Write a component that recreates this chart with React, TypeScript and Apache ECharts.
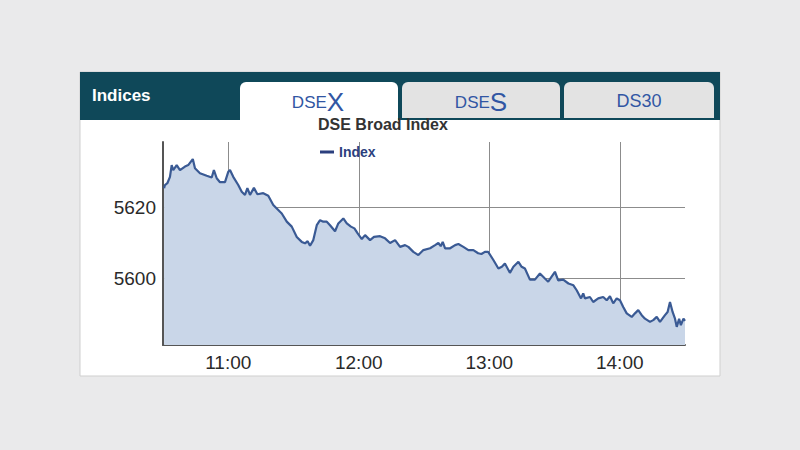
import React, { useEffect, useRef } from "react";
import * as echarts from "echarts";

// minutes since midnight
const times = [
  630.5, 630.9, 632.0, 633.2, 634.0, 634.7, 636.3, 637.8, 640.1, 641.6, 643.7, 644.7, 647.0, 650.1,
  652.4, 653.4, 654.7, 656.2, 658.5, 660.0, 660.8, 662.3, 664.6, 666.2, 667.7, 668.8, 670.0, 671.8,
  673.4, 676.1, 678.4, 680.7, 682.3, 684.6, 686.9, 689.2, 691.5, 693.8, 695.3, 696.5, 697.6, 699.1,
  700.7, 702.2, 703.7, 705.3, 706.8, 709.1, 710.6, 712.9, 714.5, 716.4, 718.0, 719.5, 721.4, 722.9,
  725.2, 727.0, 729.8, 732.1, 734.4, 736.7, 739.0, 741.3, 742.8, 745.1, 747.4, 749.7, 752.8, 755.1,
  756.6, 757.7, 758.6, 759.7, 762.0, 764.3, 765.8, 768.1, 770.4, 772.7, 774.9, 776.4, 778.0, 779.5,
  781.9, 784.2, 785.8, 787.2, 789.5, 791.1, 793.4, 794.9, 796.4, 798.7, 801.0, 803.3, 805.6, 807.1,
  810.2, 811.7, 814.0, 816.4, 818.7, 820.2, 822.2, 823.2, 824.0, 826.3, 827.8, 830.1, 832.4, 834.0,
  835.5, 837.0, 838.6, 840.1, 841.6, 843.2, 845.5, 847.0, 848.5, 850.1, 851.6, 853.9, 855.4, 857.0,
  858.5, 860.8, 862.0, 863.1, 864.3, 865.4, 866.2, 867.3, 868.1, 869.3, 870.0,
];

const indexValues = [
  5625.3, 5626.2, 5626.7, 5628.5, 5631.8, 5630.4, 5631.8, 5630.4, 5631.4, 5631.8, 5633.5, 5630.9, 5629.5, 5628.8,
  5628.3, 5630.4, 5628.1, 5627.0, 5627.0, 5629.9, 5630.4, 5628.5, 5626.2, 5624.3, 5623.4, 5625.3, 5623.4, 5625.4,
  5623.6, 5623.9, 5623.2, 5620.6, 5619.6, 5618.2, 5615.9, 5614.5, 5611.6, 5610.2, 5609.8, 5610.4, 5609.1, 5610.7,
  5614.9, 5616.3, 5615.9, 5615.9, 5614.9, 5613.2, 5615.4, 5616.8, 5615.4, 5614.5, 5614.0, 5612.6, 5611.0, 5612.1,
  5610.7, 5611.6, 5611.8, 5611.2, 5609.9, 5610.7, 5608.8, 5609.3, 5608.8, 5607.4, 5606.5, 5607.9, 5608.4, 5609.3,
  5609.9, 5609.0, 5610.2, 5608.4, 5608.4, 5609.3, 5609.6, 5608.8, 5607.9, 5607.9, 5607.0, 5606.8, 5607.4, 5607.4,
  5605.1, 5602.7, 5603.2, 5604.1, 5601.5, 5603.2, 5604.6, 5603.2, 5602.7, 5599.6, 5599.6, 5601.3, 5599.9, 5599.0,
  5601.8, 5599.4, 5599.6, 5598.5, 5598.0, 5596.6, 5594.3, 5595.7, 5594.3, 5594.7, 5593.3, 5594.3, 5594.7, 5593.8,
  5594.9, 5592.9, 5594.3, 5593.8, 5591.9, 5590.1, 5589.1, 5590.1, 5591.0, 5589.6, 5588.6, 5587.7, 5588.2, 5589.1,
  5587.7, 5589.6, 5590.5, 5593.3, 5590.5, 5588.6, 5586.3, 5588.6, 5586.8, 5588.6, 5588.0,
];

const xTicks = [660, 720, 780, 840];
const yTicks = [5600, 5620];
const tabLabels = ["DSEX", "DSES", "DS30"];
const titleText = "DSE Broad Index";
const seriesName = "Index";
const headerText = "Indices";

const FONT = "'Liberation Sans', Arial, sans-serif";

function fmtTime(v: number): string {
  const h = Math.floor(v / 60);
  const m = Math.round(v - h * 60);
  return `${h}:${m < 10 ? "0" + m : m}`;
}

export default function App() {
  const ref = useRef<HTMLDivElement>(null);
  useEffect(() => {
    if (!ref.current) return;
    const chart = echarts.init(ref.current, undefined, { renderer: "svg" });
    const data = times.map((t, i) => [t, indexValues[i]]);
    const tabStyle = (label: string) => ({
      rich: {
        a: { fontSize: 17, fontFamily: FONT, fill: "#3156a3", fontWeight: "normal" },
        b: { fontSize: 26, fontFamily: FONT, fill: "#3156a3", fontWeight: "normal" },
      },
      text: `{a|${label.slice(0, 3)}}{b|${label.slice(3)}}`,
    });
    chart.setOption({
      animation: false,
      backgroundColor: "#eaeaeb",
      textStyle: { fontFamily: FONT },
      graphic: [
        { type: "rect", z: -10, shape: { x: 80, y: 72, width: 640, height: 304 }, style: { fill: "#ffffff", stroke: "#cfcfcf", lineWidth: 1 } },
        { type: "rect", z: -9, shape: { x: 80, y: 72, width: 640, height: 48 }, style: { fill: "#0f4859" } },
        { type: "rect", z: -8, shape: { x: 240, y: 82, width: 158, height: 40, r: [6, 6, 0, 0] }, style: { fill: "#ffffff" } },
        { type: "rect", z: -8, shape: { x: 402, y: 82, width: 158, height: 36, r: [6, 6, 0, 0] }, style: { fill: "#e3e3e3" } },
        { type: "rect", z: -8, shape: { x: 564, y: 82, width: 150, height: 36, r: [6, 6, 0, 0] }, style: { fill: "#e3e3e3" } },
        { type: "text", z: 5, x: 92, y: 95, style: { text: headerText, fontSize: 17, fontWeight: "bold", fontFamily: FONT, fill: "#ffffff", verticalAlign: "middle" } },
        { type: "text", z: 5, x: 318, y: 102, style: { ...tabStyle(tabLabels[0]), align: "center", verticalAlign: "middle" } },
        { type: "text", z: 5, x: 481, y: 102, style: { ...tabStyle(tabLabels[1]), align: "center", verticalAlign: "middle" } },
        { type: "text", z: 5, x: 639, y: 101, style: { text: tabLabels[2], fontSize: 18, fontFamily: FONT, fill: "#3156a3", align: "center", verticalAlign: "middle" } },
      ],
      title: {
        text: titleText,
        left: 318,
        top: 116,
        padding: 0,
        textStyle: { fontSize: 16, fontWeight: "bold", color: "#333333", fontFamily: FONT },
      },
      legend: {
        left: 320,
        top: 145,
        padding: 0,
        icon: "rect",
        itemWidth: 14,
        itemHeight: 3,
        itemGap: 5,
        textStyle: { fontSize: 14, fontWeight: "bold", color: "#2b3f7e", fontFamily: FONT, padding: [0, 0, 0, 0] },
        data: [seriesName],
      },
      grid: { left: 163, right: 115, top: 142, bottom: 105, containLabel: false },
      xAxis: {
        type: "value",
        min: 630,
        max: 870,
        axisLine: { show: true, lineStyle: { color: "#555555", width: 2 } },
        axisTick: { show: false, customValues: xTicks },
        axisLabel: {
          customValues: xTicks,
          formatter: (v: number) => fmtTime(v),
          fontSize: 19,
          color: "#2a2a2a",
          margin: 8,
          fontFamily: FONT,
        },
        splitLine: { show: true, lineStyle: { color: "#8c8c8c", width: 1 } },
      },
      yAxis: {
        type: "value",
        min: 5581.2,
        max: 5638.3,
        axisLine: { show: true, lineStyle: { color: "#555555", width: 2 } },
        axisTick: { show: false, customValues: yTicks },
        axisLabel: {
          customValues: yTicks,
          formatter: (v: number) => String(v),
          fontSize: 19,
          color: "#2a2a2a",
          margin: 7,
          fontFamily: FONT,
        },
        splitLine: { show: true, lineStyle: { color: "#8c8c8c", width: 1 } },
      },
      series: [
        {
          name: seriesName,
          type: "line",
          data,
          showSymbol: false,
          symbol: "none",
          lineStyle: { color: "#3a5a94", width: 2.2 },
          itemStyle: { color: "#2b3f7e" },
          areaStyle: { color: "#c9d6e8", opacity: 1, origin: "start" },
          z: 1,
        },
      ],
    });
    return () => chart.dispose();
  }, []);
  return <div ref={ref} style={{ position: "fixed", left: 0, top: 0, width: 800, height: 450 }} />;
}
